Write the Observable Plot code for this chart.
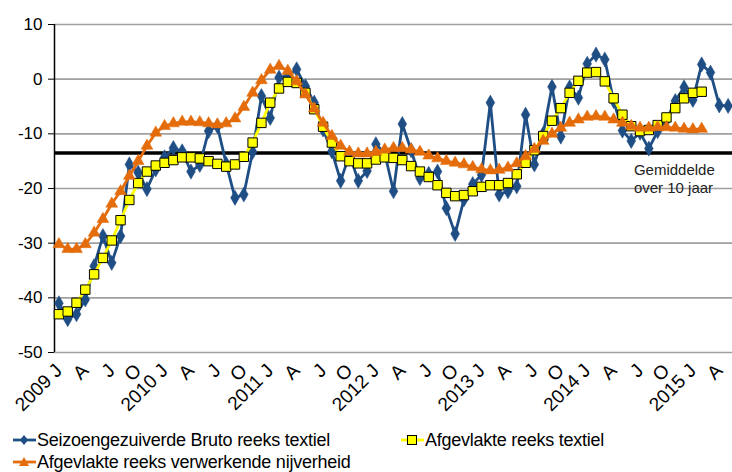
<!DOCTYPE html>
<html>
<head>
<meta charset="utf-8">
<script src="https://cdn.jsdelivr.net/npm/d3@7"></script>
<script src="https://cdn.jsdelivr.net/npm/@observablehq/plot@0.6"></script>
<style>
  html, body { margin: 0; padding: 0; background: #fff; }
  body { width: 732px; height: 472px; overflow: hidden; font-family: "Liberation Sans Narrow", "Arial Narrow", "Liberation Sans", sans-serif; }
  #chart { position: relative; width: 732px; height: 425px; }
  .legend { position: relative; height: 47px; font-size: 18px; letter-spacing: -0.25px; color: #000; }
  .item { position: absolute; display: flex; align-items: center; white-space: nowrap; line-height: 20px; }
  .item svg { margin-right: 1px; }
</style>
</head>
<body>
<div id="chart"></div>
<div class="legend" id="legend"></div>
<script>
// Months since January 2009 (index 0 = 2009 J)
const tickIndex = [0,3,6,9,12,15,18,21,24,27,30,33,36,39,42,45,48,51,54,57,60,63,66,69,72,75];
const tickLabels = ["2009 J","A","J","O","2010 J","A","J","O","2011 J","A","J","O","2012 J","A","J","O","2013 J","A","J","O","2014 J","A","J","O","2015 J","A"];

const seriesNames = ["Seizoengezuiverde Bruto reeks textiel", "Afgevlakte reeks textiel", "Afgevlakte reeks verwerkende nijverheid"];

const brutoTextiel = [
  -41.0, -43.9, -43.0, -40.3, -34.2, -28.7, -33.6, -28.7, -15.6, -17.1, -20.1, -16.5,
  -14.3, -12.6, -13.2, -16.9, -15.7, -9.5, -8.6, -15.5, -21.7, -21.1, -13.3, -3.1,
  -7.1, 0.3, 0.6, 1.8, -1.3, -4.3, -9.2, -13.2, -18.6, -13.8, -18.6, -16.8,
  -11.9, -13.5, -20.5, -8.2, -13.0, -18.1, -17.3, -16.9, -23.6, -28.3, -22.0, -19.2,
  -17.5, -4.3, -21.1, -20.5, -19.6, -6.5, -15.6, -10.0, -1.4, -10.5, -1.5, -3.4,
  2.8, 4.5, 3.6, -4.0, -9.4, -11.3, -9.8, -12.7, -9.5, -7.5, -4.0, -1.5,
  -3.8, 2.7, 1.2, -4.8, -4.9
];

const afgevlaktTextiel = [
  -43.0, -42.5, -40.9, -38.5, -35.7, -32.7, -29.5, -25.8, -22.1, -19.0, -16.9, -15.8,
  -15.3, -14.8, -14.3, -14.3, -14.5, -15.0, -15.5, -16.0, -15.6, -14.2, -11.6, -8.0,
  -4.3, -1.7, -0.5, -0.7, -2.5, -5.5, -8.7, -11.6, -14.1, -15.0, -15.4, -15.4,
  -14.7, -14.3, -14.4, -14.8, -15.9, -16.9, -17.9, -19.4, -20.8, -21.4, -21.2, -20.5,
  -19.7, -19.4, -19.4, -19.0, -17.4, -15.3, -13.0, -10.4, -7.6, -5.3, -2.5, -0.3,
  1.2, 1.3, -0.4, -3.5, -6.5, -8.6, -9.5, -9.3, -8.4, -7.0, -5.3, -3.5,
  -2.5, -2.3
];

const afgevlaktNijverheid = [
  -30.2, -31.1, -31.1, -30.2, -28.1, -25.6, -22.8, -20.5, -17.7, -15.0, -12.2, -9.8,
  -8.6, -8.1, -7.8, -7.8, -7.9, -8.1, -8.3, -8.1, -7.2, -5.1, -2.5, -0.2,
  1.7, 2.4, 1.5, -0.4, -2.8, -5.4, -8.0, -10.4, -12.2, -13.3, -13.6, -13.6,
  -13.3, -12.9, -12.6, -12.6, -12.9, -13.3, -14.0, -14.5, -15.0, -15.3, -15.6, -16.1,
  -16.5, -16.7, -16.6, -16.2, -15.4, -14.1, -12.8, -11.3, -10.0, -8.9, -8.0, -7.4,
  -6.9, -6.8, -6.9, -7.4, -8.0, -8.6, -8.9, -8.9, -8.8, -8.8, -8.9, -9.1,
  -9.2, -9.1
];

const gemiddelde10jaar = -13.5;
const gemiddeldeLabel = "Gemiddelde\nover 10 jaar";
const yTicks = [-50, -40, -30, -20, -10, 0, 10];

const colors = { blue: "#1F4E85", yellow: "#FFFF00", orange: "#E46C0A" };

const toRows = arr => arr.map((v, i) => ({ i, v }));
const blueRows = toRows(brutoTextiel);
const yellowRows = toRows(afgevlaktTextiel);
const orangeRows = toRows(afgevlaktNijverheid);

const chart = Plot.plot({
  width: 732,
  height: 425,
  marginTop: 24,
  marginBottom: 73,
  marginLeft: 54,
  marginRight: 0,
  style: { fontFamily: '"Liberation Sans Narrow", "Arial Narrow", "Liberation Sans", sans-serif', fontSize: "17px", color: "#000", background: "#fff" },
  x: { type: "linear", domain: [-0.5, 76.5], label: null },
  y: { domain: [-50, 10], label: null },
  marks: [
    Plot.gridY(yTicks, { stroke: "#a0a0a0", strokeOpacity: 1, strokeWidth: 1.6 }),
    Plot.axisY({ ticks: yTicks, tickSize: 6, tickPadding: 6, tickFormat: d => String(d), fontSize: 17, stroke: "#000", label: null }),
    Plot.axisX({ ticks: tickIndex, tickFormat: d => tickLabels[tickIndex.indexOf(d)], tickRotate: -45, tickSize: 0, tickPadding: 15, fontSize: 19, label: null }),
    Plot.ruleX([-0.5], { y1: -50, y2: 10, stroke: "#000", strokeWidth: 1.5 }),
    Plot.ruleY([gemiddelde10jaar], { stroke: "#000", strokeWidth: 3.5 }),
    Plot.text([gemiddeldeLabel], { x: 65.3, y: gemiddelde10jaar, dy: 9, textAnchor: "start", lineAnchor: "top", fontSize: 15, lineHeight: 1.2, fill: "#222" }),
    // Seizoengezuiverde bruto reeks textiel
    Plot.line(blueRows, { x: "i", y: "v", stroke: colors.blue, strokeWidth: 2.8 }),
    Plot.dot(blueRows, { x: "i", y: "v", symbol: "diamond", r: 4.6, fill: colors.blue, stroke: colors.blue, strokeWidth: 0.5 }),
    // Afgevlakte reeks textiel
    Plot.line(yellowRows, { x: "i", y: "v", stroke: colors.yellow, strokeWidth: 2.8 }),
    Plot.dot(yellowRows, { x: "i", y: "v", symbol: "square", r: 5.3, fill: colors.yellow, stroke: "#000", strokeWidth: 1 }),
    // Afgevlakte reeks verwerkende nijverheid
    Plot.line(orangeRows, { x: "i", y: "v", stroke: colors.orange, strokeWidth: 2.8 }),
    Plot.dot(orangeRows, { x: "i", y: "v", symbol: "triangle", r: 4.4, fill: colors.orange, stroke: colors.orange, strokeWidth: 0.5 })
  ]
});
document.getElementById("chart").appendChild(chart);

// Legend
const legendItems = [
  { name: seriesNames[0], color: colors.blue, shape: "diamond", left: 13, top: 5 },
  { name: seriesNames[1], color: colors.yellow, shape: "square", left: 401, top: 5 },
  { name: seriesNames[2], color: colors.orange, shape: "triangle", left: 13, top: 27 }
];
const legend = document.getElementById("legend");
for (const it of legendItems) {
  const div = document.createElement("div");
  div.className = "item";
  div.style.left = it.left + "px";
  div.style.top = it.top + "px";
  let marker;
  if (it.shape === "diamond") marker = `<path d="M11,5 L15,10 L11,15 L7,10 Z" fill="${it.color}"/>`;
  else if (it.shape === "square") marker = `<rect x="6.5" y="5.5" width="9" height="9" fill="${it.color}" stroke="#000" stroke-width="1"/>`;
  else marker = `<path d="M11,5 L16,14 L6,14 Z" fill="${it.color}"/>`;
  div.innerHTML = `<svg width="23" height="20"><line x1="0" y1="10" x2="23" y2="10" stroke="${it.color}" stroke-width="2.8"/>${marker}</svg><span>${it.name}</span>`;
  legend.appendChild(div);
}
</script>
</body>
</html>
